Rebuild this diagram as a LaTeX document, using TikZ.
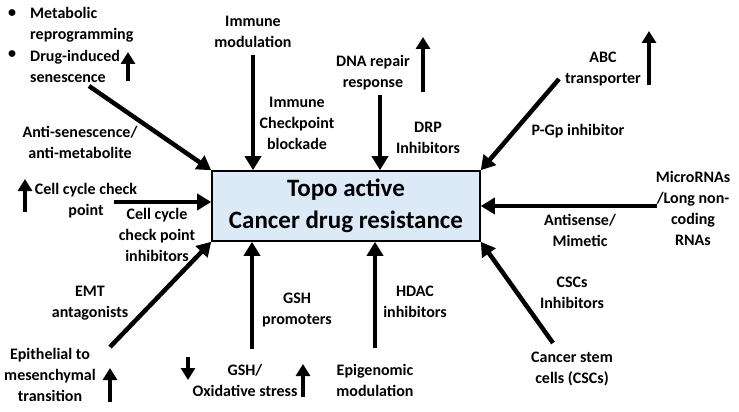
\documentclass[tikz,border=0pt]{standalone}
\usepackage{fontspec}
\setmainfont{Carlito}
\usetikzlibrary{arrows.meta}

\definecolor{boxblue}{RGB}{220,234,247}

\tikzset{
  lbl/.style={inner sep=0pt, align=center, font=\fontsize{16}{21}\selectfont\bfseries},
  fatarrow/.style={line width=4.5pt, -{Triangle[length=14pt,width=16pt]}},
  updown/.style={line width=4.5pt, -{Triangle[length=12pt,width=14pt]}},
}

\begin{document}
\begin{tikzpicture}[x=1pt,y=-1pt]
\useasboundingbox (0,0) rectangle (739,412);

% Centre box
\node [draw, line width=1.6pt, fill=boxblue, minimum width=268, minimum height=70, inner sep=0pt,
  align=center, font=\fontsize{25}{32}\selectfont\bfseries] (box) at (346,206)
  {Topo active\\Cancer drug resistance};

% Text Node
\node [lbl, anchor=west] (bul1) at (8,14) {\textbullet};
\node [lbl, anchor=west, align=left] (meta) at (30,25) {Metabolic\\reprogramming};
\node [lbl, anchor=west] (bul2) at (8,55) {\textbullet};
\node [lbl, anchor=west, align=left] (drug) at (30,66) {Drug-induced\\senescence};
\node [lbl] (antisen) at (80,142) {Anti-senescence/\\anti-metabolite};
\node [lbl] (immmod) at (253,32) {Immune\\modulation};
\node [lbl] (icb) at (297,123) {Immune\\Checkpoint\\blockade};
\node [lbl] (dna) at (373,73) {DNA repair\\response};
\node [lbl] (drp) at (428,138) {DRP\\Inhibitors};
\node [lbl] (abc) at (603,69) {ABC\\transporter};
\node [lbl] (pgp) at (578,131) {P-Gp inhibitor};
\node [lbl] (ccp) at (86,201) {Cell cycle check\\point};
\node [lbl] (ccpi) at (157,235) {Cell cycle\\check point\\inhibitors};
\node [lbl] (micro) at (693,208) {MicroRNAs\\/Long non-\\coding\\RNAs};
\node [lbl] (antimim) at (580,230) {Antisense/\\Mimetic};
\node [lbl] (emt) at (90,303) {EMT\\antagonists};
\node [lbl] (epit) at (50,375) {Epithelial to\\mesenchymal\\transition};
\node [lbl] (gshp) at (297,310) {GSH\\promoters};
\node [lbl] (gsh) at (245,380) {GSH/\\Oxidative stress};
\node [lbl] (hdac) at (415,302) {HDAC\\inhibitors};
\node [lbl] (epi) at (375,380) {Epigenomic\\modulation};
\node [lbl] (cscsi) at (572,293) {CSCs\\Inhibitors};
\node [lbl] (csc) at (572,369) {Cancer stem\\cells (CSCs)};

% Free ends
\coordinate (sen0) at (89,86);
\coordinate (imm0) at (253,55);
\coordinate (dna0) at (380,95);
\coordinate (abc0) at (559,79);
\coordinate (ccp0) at (114,202);
\coordinate (mic0) at (657,206);
\coordinate (emt0) at (110,347);
\coordinate (gsh0) at (252,349);
\coordinate (epi0) at (375,348);
\coordinate (csc0) at (553,343);

% Arrows into the box
\draw [fatarrow] (sen0) -- (box.north west);
\draw [fatarrow] (imm0) -- (imm0 |- box.north);
\draw [fatarrow] (dna0) -- (dna0 |- box.north);
\draw [fatarrow] (abc0) -- (box.north east);
\draw [fatarrow] (ccp0) -- (ccp0 -| box.west);
\draw [fatarrow] (mic0) -- (mic0 -| box.east);
\draw [fatarrow] (emt0) -- (box.south west);
\draw [fatarrow] (gsh0) -- (gsh0 |- box.south);
\draw [fatarrow] (epi0) -- (epi0 |- box.south);
\draw [fatarrow] (csc0) -- (box.south east);

% Up / down marks
\draw [updown] (128,81) -- (128,52);
\draw [updown] (423,92) -- (423,37);
\draw [updown] (649,85) -- (649,31);
\draw [updown] (25,212) -- (25,179);
\draw [updown] (110,402) -- (110,368);
\draw [updown] (188,357) -- (188,380);
\draw [updown] (303,397) -- (303,364);

\end{tikzpicture}
\end{document}
